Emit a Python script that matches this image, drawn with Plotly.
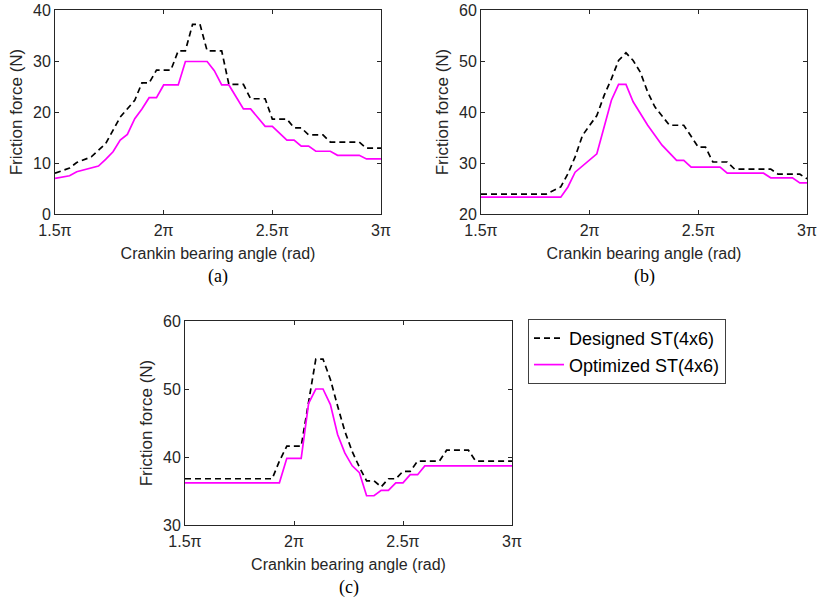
import plotly.graph_objects as go

# ---------------- data (x in units of pi) ----------------
# (a)
a_des_x = [1.5, 1.567, 1.6, 1.667, 1.733, 1.767, 1.8, 1.867, 1.9, 1.933, 1.967, 2.033, 2.067, 2.1, 2.133, 2.167,
           2.2, 2.267, 2.3, 2.367, 2.4, 2.467, 2.5, 2.567, 2.6, 2.633, 2.667, 2.733, 2.767, 2.9, 2.933, 3.0]
a_des_y = [8.0, 9.0, 10.1, 11.2, 13.8, 16.4, 19.0, 22.3, 25.7, 25.7, 28.2, 28.2, 32.0, 32.0, 37.2, 37.2,
           32.0, 32.0, 25.4, 25.4, 22.6, 22.6, 18.6, 18.6, 16.9, 16.9, 15.5, 15.5, 14.1, 14.1, 12.9, 12.9]
a_opt_x = [1.5, 1.567, 1.6, 1.7, 1.733, 1.767, 1.8, 1.833, 1.867, 1.9, 1.933, 1.967, 2.0, 2.067, 2.1, 2.2,
           2.233, 2.267, 2.3, 2.367, 2.4, 2.467, 2.5, 2.567, 2.6, 2.633, 2.667, 2.7, 2.767, 2.8, 2.9, 2.933, 3.0]
a_opt_y = [7.0, 7.5, 8.3, 9.4, 10.7, 12.2, 14.5, 15.6, 18.7, 20.6, 22.8, 22.8, 25.3, 25.3, 29.9, 29.9,
           28.1, 25.3, 25.3, 20.6, 20.6, 17.2, 17.2, 14.5, 14.5, 13.3, 13.3, 12.3, 12.3, 11.5, 11.5, 10.8, 10.8]

# (b)
b_des_x = [1.5, 1.8, 1.867, 1.9, 1.933, 1.967, 2.0, 2.033, 2.067, 2.1, 2.133, 2.167, 2.2, 2.233, 2.267,
           2.3, 2.367, 2.433, 2.5, 2.533, 2.567, 2.633, 2.667, 2.833, 2.867, 2.967, 3.0]
b_des_y = [23.9, 23.9, 25.3, 27.9, 31.2, 35.4, 37.4, 39.3, 43.3, 46.5, 50.1, 51.6, 50.1, 47.8, 43.9,
           41.0, 37.4, 37.4, 33.1, 33.1, 30.2, 30.2, 28.8, 28.8, 27.8, 27.8, 26.9]
b_opt_x = [1.5, 1.867, 1.9, 1.933, 2.033, 2.1, 2.133, 2.167, 2.2, 2.267, 2.333, 2.4, 2.433, 2.467,
           2.6, 2.633, 2.8, 2.833, 2.933, 2.967, 3.0]
b_opt_y = [23.3, 23.3, 25.3, 28.2, 31.8, 42.3, 45.4, 45.4, 42.0, 37.4, 33.5, 30.5, 30.5, 29.2,
           29.2, 28.0, 28.0, 27.1, 27.1, 26.1, 26.1]

# (c)
c_des_x = [1.5, 1.9, 1.933, 1.967, 2.033, 2.067, 2.1, 2.133, 2.167, 2.2, 2.233, 2.267, 2.3, 2.333,
           2.367, 2.4, 2.433, 2.467, 2.5, 2.533, 2.567, 2.667, 2.7, 2.8, 2.833, 3.0]
c_des_y = [36.8, 36.8, 39.4, 41.6, 41.6, 48.2, 54.4, 54.4, 51.4, 47.5, 43.8, 40.8, 38.5, 36.5,
           36.5, 35.6, 36.8, 36.8, 37.9, 37.9, 39.4, 39.4, 41.0, 41.0, 39.4, 39.4]
c_opt_x = [1.5, 1.933, 1.967, 2.033, 2.067, 2.1, 2.133, 2.167, 2.2, 2.233, 2.267, 2.3, 2.333, 2.367,
           2.4, 2.433, 2.467, 2.5, 2.533, 2.567, 2.6, 3.0]
c_opt_y = [36.2, 36.2, 39.8, 39.8, 47.9, 50.0, 50.0, 47.7, 43.3, 40.6, 38.7, 37.7, 34.3, 34.3,
           35.1, 35.1, 36.2, 36.2, 37.4, 37.4, 38.7, 38.7]

x_tickvals = [1.5, 2.0, 2.5, 3.0]
x_ticktext = ["1.5\u03c0", "2\u03c0", "2.5\u03c0", "3\u03c0"]
series_names = ["Designed ST(4x6)", "Optimized ST(4x6)"]
panel_labels = ["(a)", "(b)", "(c)"]
y_ranges = [[0, 40], [20, 60], [30, 60]]
x_title = "Crankin bearing angle (rad)"
y_title = "Friction force (N)"

# ---------------- figure ----------------
W, H = 818, 599
AX = "#262626"
FONT = "Liberation Sans, Arial, sans-serif"

fig = go.Figure()

panels = [
    (a_des_x, a_des_y, a_opt_x, a_opt_y),
    (b_des_x, b_des_y, b_opt_x, b_opt_y),
    (c_des_x, c_des_y, c_opt_x, c_opt_y),
]
# pixel boxes: left, right, top, bottom
boxes = [(55, 381, 10, 214), (481, 807, 10, 214), (185, 512, 321, 525)]

for i, (dx, dy, ox, oy) in enumerate(panels):
    s = "" if i == 0 else str(i + 1)
    fig.add_trace(go.Scatter(x=dx, y=dy, mode="lines", name=series_names[0],
                             line=dict(color="black", width=1.7, dash="6px,4px"),
                             xaxis="x" + s, yaxis="y" + s, showlegend=(i == 2)))
    fig.add_trace(go.Scatter(x=ox, y=oy, mode="lines", name=series_names[1],
                             line=dict(color="#FF00FF", width=1.7),
                             xaxis="x" + s, yaxis="y" + s, showlegend=(i == 2)))

layout = dict(
    width=W, height=H,
    margin=dict(l=0, r=0, t=0, b=0),
    paper_bgcolor="white", plot_bgcolor="white",
    font=dict(family=FONT, size=16, color=AX),
    showlegend=True,
    legend=dict(x=528 / W, y=1 - 319 / H, xanchor="left", yanchor="top",
                bgcolor="white", bordercolor="#404040", borderwidth=1,
                font=dict(family=FONT, size=18, color="black"),
                tracegroupgap=0, itemwidth=30),
)

for i, (l, r, t, b) in enumerate(boxes):
    s = "" if i == 0 else str(i + 1)
    layout["xaxis" + s] = dict(
        domain=[l / W, r / W], range=[1.5, 3.0], anchor="y" + s,
        tickvals=x_tickvals, ticktext=x_ticktext,
        ticks="inside", ticklen=4, tickcolor=AX, tickwidth=1,
        showline=True, linecolor=AX, linewidth=1, mirror="ticks",
        showgrid=False, zeroline=False, ticklabelstandoff=2,
        tickfont=dict(family=FONT, size=16, color=AX),
        title=dict(text=x_title, standoff=9, font=dict(family=FONT, size=16, color=AX)),
        automargin=False,
    )
    layout["yaxis" + s] = dict(
        domain=[1 - b / H, 1 - t / H], range=y_ranges[i], anchor="x" + s,
        dtick=10, ticks="inside", ticklen=4, tickcolor=AX, tickwidth=1,
        showline=True, linecolor=AX, linewidth=1, mirror="ticks",
        showgrid=False, zeroline=False,
        tickfont=dict(family=FONT, size=16, color=AX),
        title=dict(text=y_title, standoff=6, font=dict(family=FONT, size=17, color=AX)),
        automargin=False,
    )

fig.update_layout(**layout)

label_y = [277, 277, 587]
for i, (l, r, t, b) in enumerate(boxes):
    fig.add_annotation(text=panel_labels[i], x=(l + r) / 2 / W, y=1 - label_y[i] / H,
                       xref="paper", yref="paper", showarrow=False,
                       xanchor="center", yanchor="middle",
                       font=dict(family="Liberation Serif, Times New Roman, serif", size=18, color="black"))

fig.write_html("out.html")
